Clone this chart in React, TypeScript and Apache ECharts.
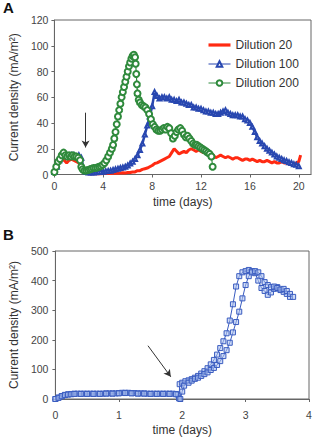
import React, { useEffect, useRef } from "react";
import * as echarts from "echarts";

// ---------- Panel A data ----------
const seriesNamesA = ["Dilution 20", "Dilution 100", "Dilution 200"];
const stepA = 0.2; // sampling interval (days) of the red and blue records

const dilution20 = [
  2, 6, 10, 12, 11, 9, 11, 12, 11, 10,
  9, 5, 2, 1, 0.5, 0.5, 0.6, 0.5, 0.7, 0.6,
  0.8, 0.7, 0.9, 0.8, 1, 1.1, 1, 1.2, 1.3, 1.2,
  1.5, 1.5, 2, 2, 3, 3, 4, 4.5, 5, 6,
  7, 8.5, 9, 10, 11, 12, 13, 14, 17, 20,
  18, 16, 17, 18, 17, 19, 20, 19, 18, 19,
  18, 17, 17, 16, 16, 15, 13, 14, 15, 14,
  13, 14, 13, 12, 13, 13, 12, 11, 12, 12,
  11, 12, 11, 10, 11, 10, 10, 11, 10, 9,
  10, 9, 9, 10, 9, 9, 8, 9, 8, 9,
  10,
];
const dilution20Tail: [number, number][] = [[20.15, 15]];

const dilution100 = [
  2, 6, 11, 15, 16, 15, 14, 15, 15, 14,
  15, 13, 4, 2, 1.5, 1.5, 1.5, 1.8, 2, 2,
  2.2, 2.5, 2.8, 3, 3.5, 4, 4.5, 5, 5.5, 6,
  7, 8.5, 10, 12, 15, 19, 24, 31, 38, 45,
  53, 64, 61, 59, 60, 60, 59, 60, 58, 58,
  57, 58, 56, 56, 55, 54, 54, 52, 52, 51,
  51, 50, 49, 49, 48, 48, 47, 47, 48, 49,
  50, 48, 47, 46, 46, 46, 45, 45, 43, 42,
  40, 37, 33, 29, 26, 24, 22, 20, 18.5, 17,
  15.5, 14, 13, 12, 11, 10.5, 9.5, 9, 8, 7.5,
  6.5,
];

const dilution200: [number, number][] = [
  [0, 2], [0.15, 6], [0.3, 10], [0.45, 12], [0.6, 15], [0.75, 17], [0.9, 15],
  [1.05, 14], [1.2, 15], [1.35, 14], [1.5, 15], [1.65, 14], [1.8, 14], [1.95, 13],
  [2.1, 11], [2.2, 6], [2.3, 4], [2.45, 3], [2.6, 3], [2.75, 3.5], [2.9, 4],
  [3.05, 4.5], [3.2, 5], [3.35, 5], [3.5, 5.5], [3.65, 6], [3.8, 6.5], [3.95, 7.5],
  [4.1, 9], [4.25, 11], [4.4, 14], [4.55, 17], [4.7, 20], [4.8, 23], [4.9, 28],
  [5.0, 33], [5.1, 39], [5.2, 45], [5.3, 50], [5.4, 55], [5.5, 60], [5.6, 64],
  [5.7, 68], [5.8, 72], [5.9, 76], [6.0, 80], [6.1, 84], [6.2, 87], [6.3, 90],
  [6.4, 92], [6.5, 93], [6.6, 91], [6.65, 86], [6.7, 78], [6.75, 70], [6.8, 63],
  [6.9, 58], [7.0, 56], [7.15, 54], [7.3, 53], [7.45, 52], [7.6, 50], [7.75, 47],
  [7.9, 43], [8.05, 39], [8.2, 37], [8.35, 35], [8.5, 34], [8.65, 34], [8.8, 35],
  [8.95, 36], [9.1, 35], [9.25, 37], [9.4, 36], [9.55, 32], [9.7, 28], [9.85, 30],
  [10.0, 33], [10.15, 35], [10.3, 36], [10.45, 34], [10.6, 31], [10.75, 29],
  [10.9, 30], [11.05, 28], [11.2, 26], [11.35, 24], [11.5, 23], [11.65, 23],
  [11.8, 22], [11.95, 21], [12.1, 20], [12.25, 19], [12.4, 18], [12.55, 17],
  [12.7, 16], [12.85, 14], [12.95, 6],
];

const xTicksA = { min: 0, max: 21, interval: 4 };
const yTicksA = { min: 0, max: 120, interval: 20 };
const arrowA: [number, number][] = [[2.55, 48], [2.55, 21]];

// ---------- Panel B data ----------
const electrode1: [number, number][] = [
  [0, 0], [0.05, 5], [0.1, 10], [0.15, 14], [0.2, 16], [0.25, 17], [0.3, 18],
  [0.35, 18], [0.4, 18], [0.45, 18], [0.5, 18], [0.55, 18], [0.6, 18], [0.65, 18],
  [0.7, 18], [0.75, 18], [0.8, 19], [0.85, 19], [0.9, 19], [0.95, 19], [1.0, 20],
  [1.05, 21], [1.1, 21], [1.15, 21], [1.2, 20], [1.25, 20], [1.3, 19], [1.35, 19],
  [1.4, 19], [1.45, 18], [1.5, 18], [1.55, 18], [1.6, 18], [1.65, 18], [1.7, 18],
  [1.75, 18], [1.8, 18], [1.85, 18], [1.9, 17], [1.93, 15], [1.95, 2], [1.96, 50],
  [2.0, 55], [2.05, 60], [2.1, 63], [2.15, 67], [2.2, 72], [2.25, 78], [2.3, 86],
  [2.35, 94], [2.4, 104], [2.45, 117], [2.5, 132], [2.55, 150], [2.6, 172],
  [2.65, 195], [2.7, 222], [2.75, 265], [2.8, 320], [2.85, 380], [2.9, 415],
  [2.95, 428], [3.0, 432], [3.05, 436], [3.1, 432], [3.15, 425], [3.2, 400],
  [3.25, 375], [3.3, 365], [3.35, 352], [3.4, 360], [3.45, 372], [3.5, 378],
  [3.55, 368], [3.6, 362], [3.65, 355], [3.7, 345],
];
const electrode2: [number, number][] = [
  [0, 0], [0.05, 4], [0.1, 9], [0.15, 13], [0.2, 15], [0.25, 16], [0.3, 17],
  [0.4, 17], [0.5, 17], [0.6, 17], [0.7, 17], [0.8, 18], [0.9, 18], [1.0, 19],
  [1.1, 20], [1.2, 19], [1.3, 18], [1.4, 18], [1.5, 17], [1.6, 17], [1.7, 17],
  [1.8, 17], [1.9, 16], [1.97, 0], [2.0, 25], [2.03, 45], [2.1, 55], [2.15, 62],
  [2.2, 68], [2.25, 72], [2.3, 78], [2.35, 84], [2.4, 90], [2.45, 98], [2.5, 105],
  [2.55, 115], [2.6, 128], [2.65, 145], [2.7, 165], [2.75, 190], [2.8, 225],
  [2.85, 260], [2.9, 295], [2.95, 340], [3.0, 385], [3.05, 415], [3.1, 428],
  [3.15, 432], [3.2, 428], [3.25, 415], [3.3, 395], [3.35, 385], [3.4, 378],
  [3.45, 380], [3.5, 375], [3.55, 370], [3.6, 372], [3.65, 365], [3.7, 355],
  [3.75, 345],
];

const xTicksB = { min: 0, max: 4, interval: 1 };
const yTicksB = { min: 0, max: 500, interval: 100 };
const arrowB: [number, number][] = [[1.46, 180], [1.82, 75]];

const yName = "Current density (mA/m²)";
const xName = "time (days)";

const FONT = "Liberation Sans, Arial, sans-serif";
const AX = "#666";
const TXT = "#444";
const RED = "#ff2a12";
const BLUE = "#2847b0";
const GREEN = "#2f8a3c";
const BLUE_B = "#3a5cc0";

function withTime(values: number[], step: number): [number, number][] {
  return values.map((v, i) => [Number((i * step).toFixed(2)), v]);
}

export default function App() {
  const ref = useRef<HTMLDivElement>(null);

  useEffect(() => {
    if (!ref.current) return;
    const chart = echarts.init(ref.current, undefined, { renderer: "svg" });

    const axisCommon = {
      axisLine: { show: true, lineStyle: { color: AX, width: 1 } },
      axisTick: { show: true, length: 3, lineStyle: { color: AX } },
      splitLine: { show: false },
      nameTextStyle: { fontFamily: FONT, fontSize: 12, color: "#333" },
    };

    const arrowLine = (pts: [number, number][]) => ({
      silent: true,
      symbol: ["none", "arrow"],
      symbolSize: [6, 7],
      label: { show: false },
      lineStyle: { color: "#333", width: 1, type: "solid" },
      data: [[{ coord: pts[0] }, { coord: pts[1] }]],
    });

    const option: any = {
      animation: false,
      backgroundColor: "#fff",
      textStyle: { fontFamily: FONT },
      graphic: [
        { type: "text", left: 3, top: 0, style: { text: "A", font: `bold 15px ${FONT}`, fill: "#111" } },
        { type: "text", left: 3, top: 227, style: { text: "B", font: `bold 15px ${FONT}`, fill: "#111" } },
      ],
      legend: {
        data: [
          { name: seriesNamesA[0], icon: "path://M0 0H22V3.2H0Z" },
          { name: seriesNamesA[1] },
          { name: seriesNamesA[2] },
        ],
        orient: "vertical",
        left: 203,
        top: 34,
        itemWidth: 22,
        itemHeight: 7,
        itemGap: 7,
        lineStyle: { width: 1 },
        itemStyle: { borderWidth: 1 },
        textStyle: { fontFamily: FONT, fontSize: 12, color: "#333" },
      },
      grid: [
        { left: 46, top: 20, right: 6, height: 154.5, show: true, borderColor: AX, borderWidth: 1, backgroundColor: "transparent" },
        { left: 46.7, top: 251, right: 8, height: 148, show: true, borderColor: AX, borderWidth: 1, backgroundColor: "transparent" },
      ],
      xAxis: [
        {
          ...axisCommon,
          type: "value",
          gridIndex: 0,
          ...xTicksA,
          name: xName,
          nameLocation: "middle",
          nameGap: 21,
          axisLabel: { margin: 6, fontSize: 10.5, color: TXT, fontFamily: FONT, showMaxLabel: false },
        },
        {
          ...axisCommon,
          type: "value",
          gridIndex: 1,
          ...xTicksB,
          name: xName,
          nameLocation: "middle",
          nameGap: 25,
          axisLabel: { margin: 10, fontSize: 10.5, color: TXT, fontFamily: FONT },
        },
      ],
      yAxis: [
        {
          ...axisCommon,
          type: "value",
          gridIndex: 0,
          ...yTicksA,
          name: yName,
          nameLocation: "middle",
          nameGap: 30,
          axisLabel: { margin: 6, fontSize: 10.5, color: TXT, fontFamily: FONT },
        },
        {
          ...axisCommon,
          type: "value",
          gridIndex: 1,
          ...yTicksB,
          name: yName,
          nameLocation: "middle",
          nameGap: 31,
          axisLabel: { margin: 7, fontSize: 10.5, color: TXT, fontFamily: FONT },
        },
      ],
      series: [
        {
          name: seriesNamesA[0],
          type: "line",
          xAxisIndex: 0,
          yAxisIndex: 0,
          data: withTime(dilution20, stepA).concat(dilution20Tail),
          symbol: "none",
          color: RED,
          lineStyle: { color: RED, width: 3 },
          z: 2,
        },
        {
          name: seriesNamesA[1],
          type: "line",
          xAxisIndex: 0,
          yAxisIndex: 0,
          data: withTime(dilution100, stepA),
          symbol: "emptyTriangle",
          symbolSize: 4,
          showAllSymbol: true,
          color: BLUE,
          itemStyle: { color: BLUE, borderWidth: 1.4 },
          lineStyle: { color: BLUE, width: 2.5 },
          z: 3,
        },
        {
          name: seriesNamesA[2],
          type: "line",
          xAxisIndex: 0,
          yAxisIndex: 0,
          data: dilution200,
          symbol: "emptyCircle",
          symbolSize: 6,
          showAllSymbol: true,
          color: GREEN,
          itemStyle: { color: GREEN, borderWidth: 1 },
          lineStyle: { color: GREEN, width: 1.2 },
          z: 4,
          markLine: arrowLine(arrowA),
        },
        {
          name: "electrode 1",
          type: "line",
          xAxisIndex: 1,
          yAxisIndex: 1,
          data: electrode1,
          symbol: "rect",
          symbolSize: 5,
          showAllSymbol: true,
          itemStyle: { color: "rgba(170,192,238,0.55)", borderColor: BLUE_B, borderWidth: 1 },
          lineStyle: { color: BLUE_B, width: 1 },
          markLine: arrowLine(arrowB),
        },
        {
          name: "electrode 2",
          type: "line",
          xAxisIndex: 1,
          yAxisIndex: 1,
          data: electrode2,
          symbol: "rect",
          symbolSize: 5,
          showAllSymbol: true,
          itemStyle: { color: "rgba(170,192,238,0.55)", borderColor: BLUE_B, borderWidth: 1 },
          lineStyle: { color: BLUE_B, width: 1 },
        },
      ],
    };

    chart.setOption(option);
    return () => chart.dispose();
  }, []);

  return (
    <div
      ref={ref}
      style={{ position: "fixed", left: 0, top: 0, width: 317, height: 439, background: "#fff" }}
    />
  );
}
